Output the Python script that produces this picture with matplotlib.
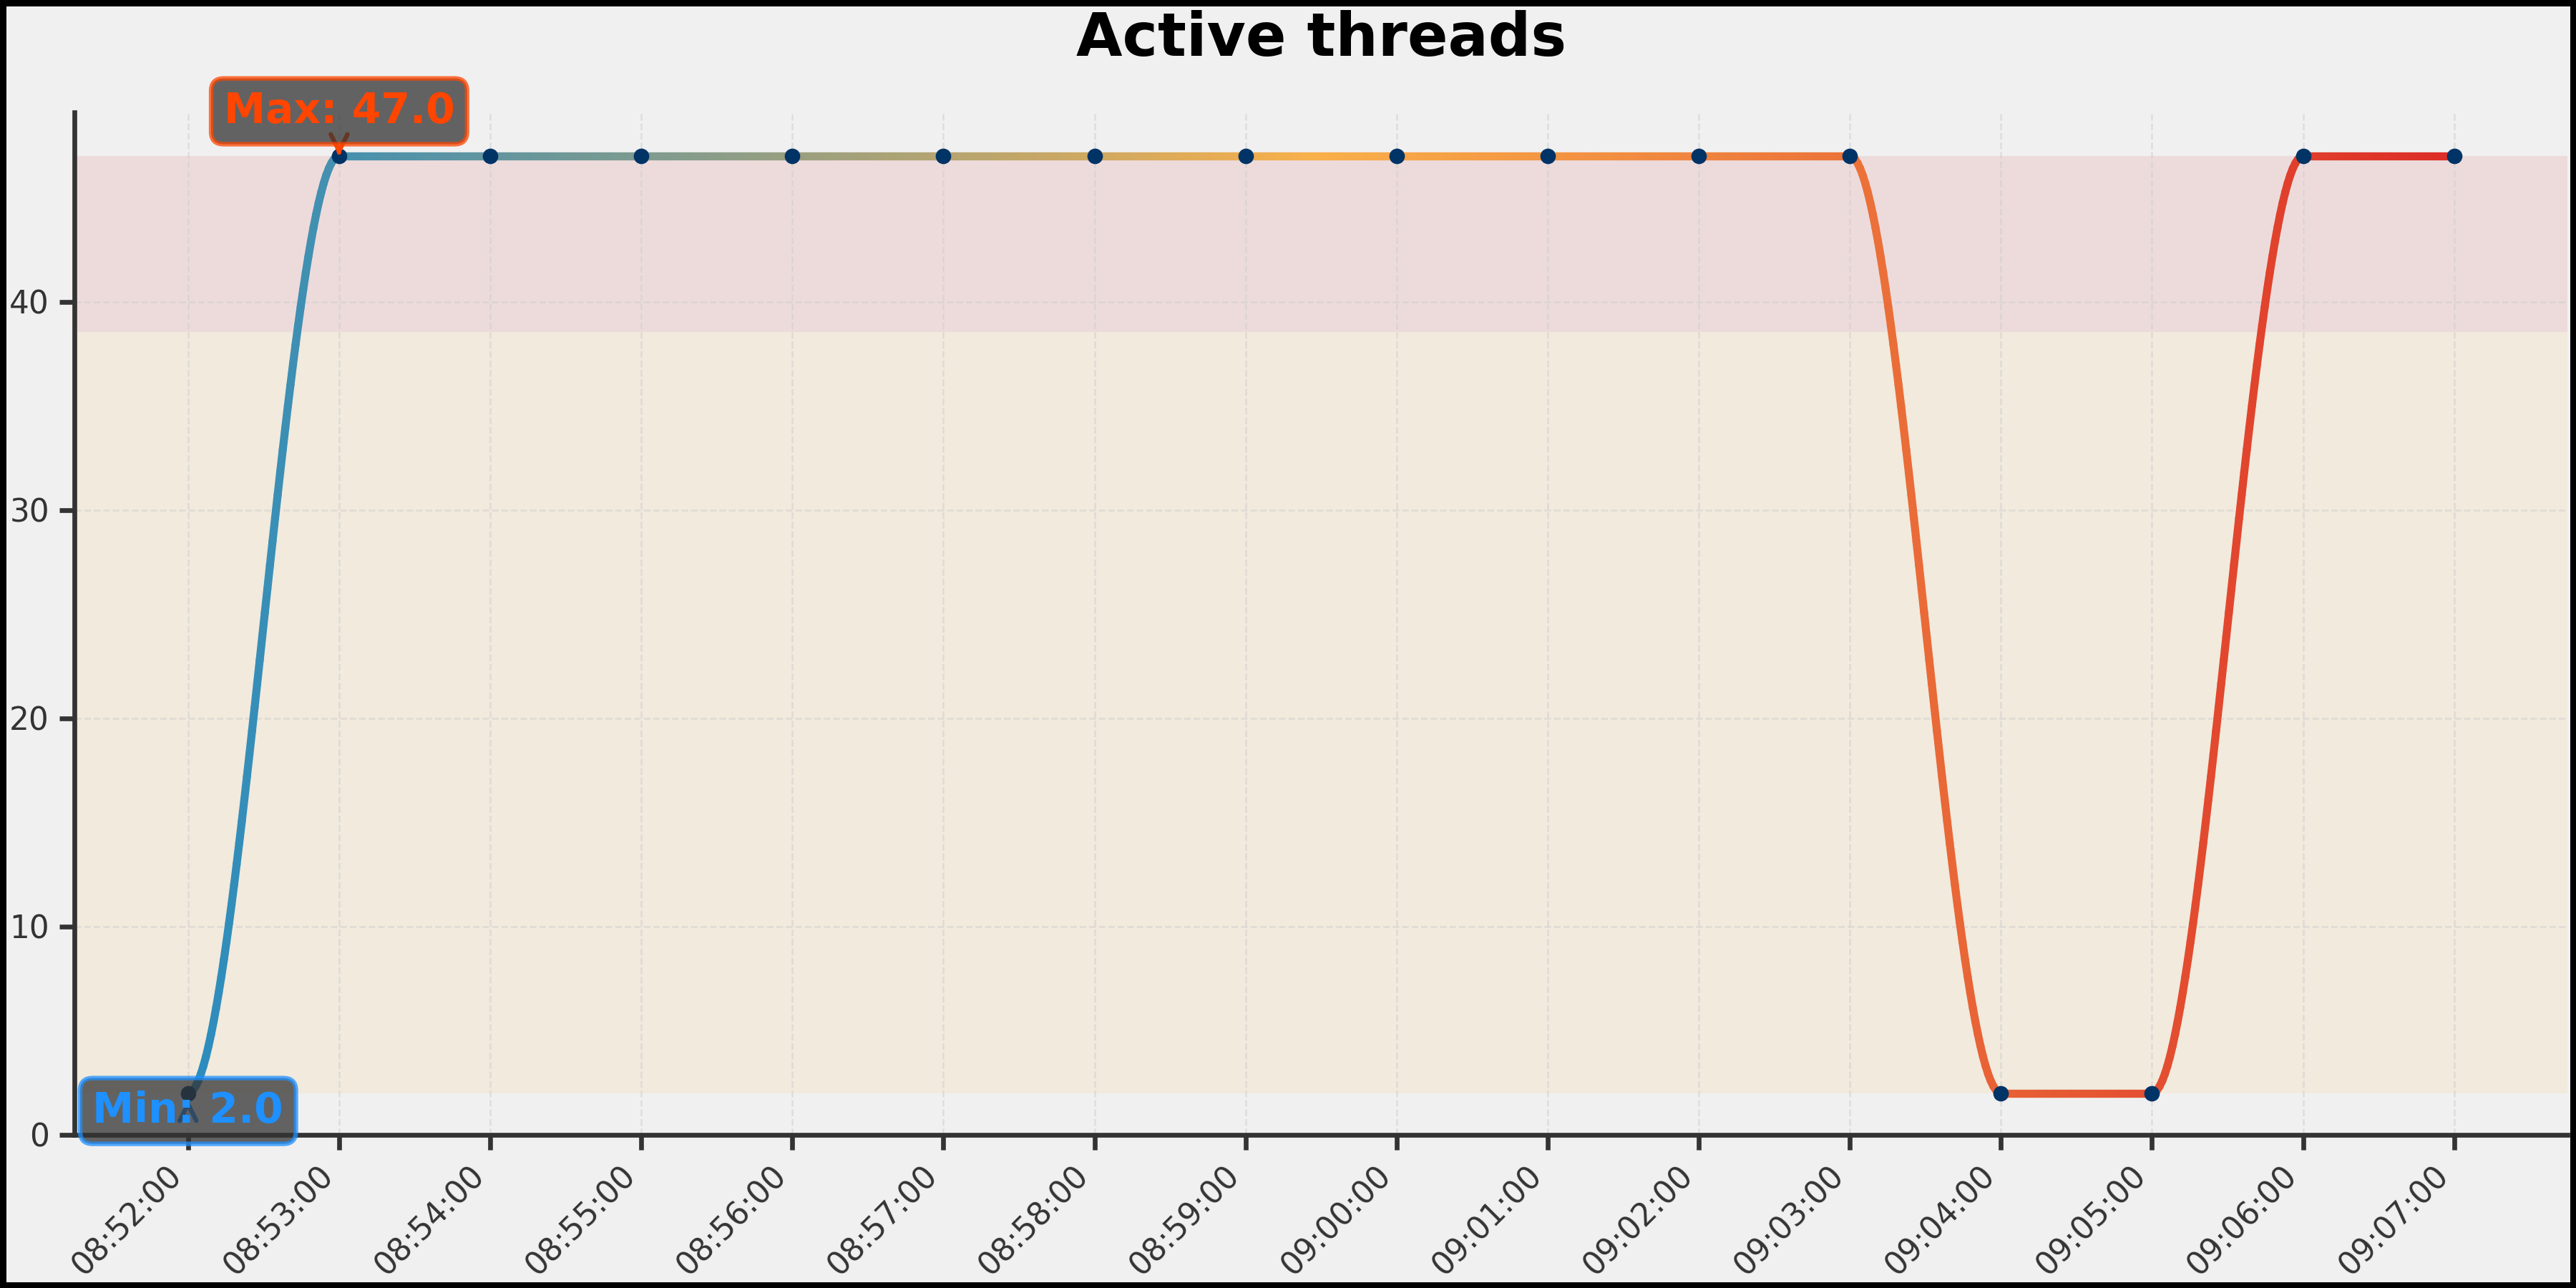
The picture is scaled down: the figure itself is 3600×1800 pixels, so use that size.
import numpy as np
import pandas as pd
import matplotlib
matplotlib.use("Agg")
import matplotlib.pyplot as plt
import matplotlib.dates as mdates
from matplotlib.collections import LineCollection
from matplotlib.colors import LinearSegmentedColormap

# data
times = ["08:52:00", "08:53:00", "08:54:00", "08:55:00", "08:56:00", "08:57:00",
         "08:58:00", "08:59:00", "09:00:00", "09:01:00", "09:02:00", "09:03:00",
         "09:04:00", "09:05:00", "09:06:00", "09:07:00"]
threads = [2, 47, 47, 47, 47, 47, 47, 47, 47, 47, 47, 47, 2, 2, 47, 47]
title = "Active threads"

x = mdates.date2num(pd.to_datetime(["2024-01-01 " + t for t in times]))
y = np.array(threads, dtype=float)

y_min, y_max, y_mean = y.min(), y.max(), y.mean()
i_min, i_max = int(np.argmin(y)), int(np.argmax(y))

# smooth the line between samples (cubic hermite, flat at each sample)
xs, ys = [], []
for i in range(len(x) - 1):
    t = np.linspace(0, 1, 60)[:-1]
    s = 3 * t**2 - 2 * t**3
    xs.append(x[i] + (x[i + 1] - x[i]) * t)
    ys.append(y[i] + (y[i + 1] - y[i]) * s)
xs.append([x[-1]])
ys.append([y[-1]])
xs = np.concatenate(xs)
ys = np.concatenate(ys)

cmap = LinearSegmentedColormap.from_list("threads", ["#2b8cbe", "#f9b04a", "#dc2d27"])

fig, ax = plt.subplots(figsize=(12, 6), dpi=300)
fig.patch.set_facecolor("#f0f0f0")
fig.patch.set_edgecolor("black")
fig.patch.set_linewidth(4)
ax.set_facecolor("#f0f0f0")
plt.subplots_adjust(left=0.029, right=0.9967, bottom=0.119, top=0.9128)

# value zones
ax.axhspan(y_mean, y_max, color="#d62728", alpha=0.1, zorder=0, lw=0)
ax.axhspan(y_min, y_mean, color="#ffa500", alpha=0.08, zorder=0, lw=0)

pts = np.array([xs, ys]).T.reshape(-1, 1, 2)
segs = np.concatenate([pts[:-1], pts[1:]], axis=1)
mid = (xs[:-1] + xs[1:]) / 2
lc = LineCollection(segs, cmap=cmap, norm=plt.Normalize(x[0], x[-1]),
                    linewidth=2.7, capstyle="round", zorder=3)
lc.set_array(mid)
ax.add_collection(lc)
ax.plot(x, y, "o", color="#003366", markersize=4.2, zorder=4)

ax.set_xlim(x[0] - 0.05 * (x[-1] - x[0]), x[-1] + 0.05 * (x[-1] - x[0]))
ax.set_ylim(0, 49.1)

ax.xaxis.set_major_locator(mdates.MinuteLocator())
ax.xaxis.set_major_formatter(mdates.DateFormatter("%H:%M:%S"))
plt.setp(ax.get_xticklabels(), rotation=45, ha="right")

ax.grid(True, linestyle="--", color="#cccccc", linewidth=0.6, alpha=0.5)
ax.set_axisbelow(True)
for side in ["top", "right"]:
    ax.spines[side].set_visible(False)
for side in ["left", "bottom"]:
    ax.spines[side].set_color("#333333")
    ax.spines[side].set_linewidth(1.6)
ax.tick_params(axis="both", colors="#333333", labelsize=10.5, length=5, width=1.6)

ax.annotate(f"Max: {y_max:.1f}", xy=(x[i_max], y_max), xytext=(0, 15),
            textcoords="offset points", ha="center", va="center",
            fontsize=14, fontweight="bold", color="#ff4500",
            bbox=dict(boxstyle="round,pad=0.3", fc="#333333", ec="#ff4500", alpha=0.75, lw=1.5),
            arrowprops=dict(arrowstyle="->", color="#ff4500", lw=1.5), zorder=6)
ax.annotate(f"Min: {y_min:.1f}", xy=(x[i_min], y_min), xytext=(0, -6),
            textcoords="offset points", ha="center", va="center",
            fontsize=14, fontweight="bold", color="#1e90ff",
            bbox=dict(boxstyle="round,pad=0.3", fc="#333333", ec="#1e90ff", alpha=0.75, lw=1.5),
            arrowprops=dict(arrowstyle="->", color="#1e90ff", lw=1.5), zorder=6,
            annotation_clip=False)

ax.set_title(title, fontsize=20, fontweight="bold", pad=19)

fig.savefig("out.png", dpi=300)
